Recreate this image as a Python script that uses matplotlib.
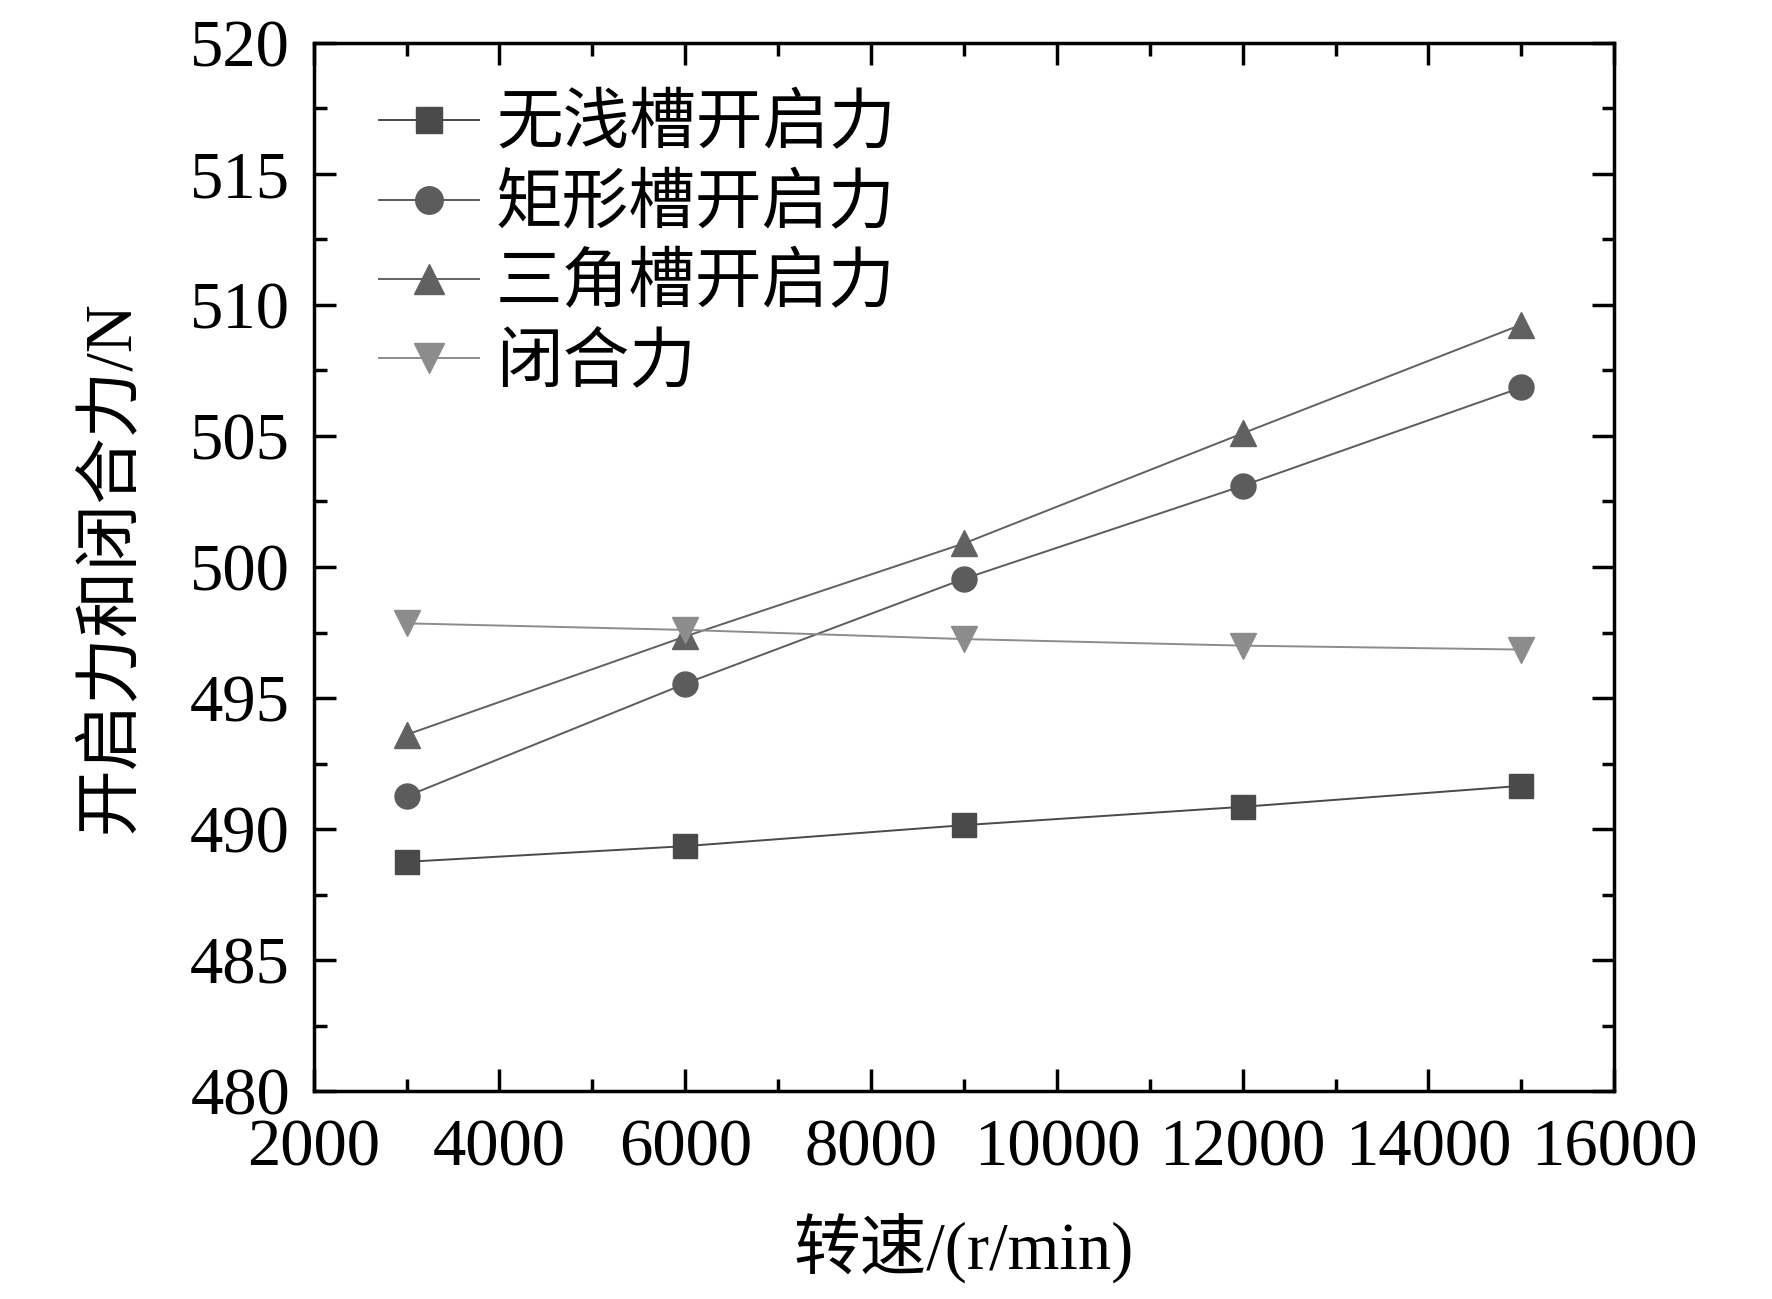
import numpy as np
import matplotlib
matplotlib.use("Agg")
import matplotlib.pyplot as plt
from matplotlib.ticker import MultipleLocator

plt.rcParams['font.family'] = ['Liberation Serif', 'Noto Sans CJK SC']

# speeds (r/min)
speed = [3000, 6000, 9000, 12000, 15000]

# forces (N)
noGroove = [488.75, 489.35, 490.15, 490.85, 491.65]
rectGroove = [491.25, 495.55, 499.55, 503.1, 506.85]
triGroove = [493.6, 497.35, 500.9, 505.1, 509.25]
closeForce = [497.85, 497.6, 497.25, 497.0, 496.85]

labels = ["无浅槽开启力", "矩形槽开启力", "三角槽开启力", "闭合力"]

FS = 48


def main():
    fig = plt.figure(figsize=(17.72, 12.99), dpi=100)
    ax = fig.add_axes([0.177, 0.16, 0.734, 0.807])

    ax.plot(speed, noGroove, '-s', color='#4a4a4a', lw=1.4, ms=17, label=labels[0])
    ax.plot(speed, rectGroove, '-o', color='#5c5c5c', lw=1.4, ms=18, label=labels[1])
    ax.plot(speed, triGroove, '-^', color='#616161', lw=1.4, ms=19, label=labels[2])
    ax.plot(speed, closeForce, '-v', color='#8c8c8c', lw=1.4, ms=19, label=labels[3])

    ax.set_xlim(2000, 16000)
    ax.set_ylim(480, 520)
    ax.xaxis.set_major_locator(MultipleLocator(2000))
    ax.xaxis.set_minor_locator(MultipleLocator(1000))
    ax.yaxis.set_major_locator(MultipleLocator(5))
    ax.yaxis.set_minor_locator(MultipleLocator(2.5))

    ax.tick_params(which='both', direction='in', top=True, right=True,
                   width=2.5, labelsize=FS)
    ax.tick_params(axis='x', pad=20)
    ax.tick_params(axis='y', pad=17)
    ax.tick_params(which='major', length=16)
    ax.tick_params(which='minor', length=9)
    for sp in ax.spines.values():
        sp.set_linewidth(2.5)

    ax.set_xlabel("转速/(r/min)", fontsize=FS, labelpad=24)
    ax.set_ylabel("开启力和闭合力/N", fontsize=FS, labelpad=34)

    ax.legend(loc='upper left', bbox_to_anchor=(0.03, 0.975), frameon=False,
              fontsize=FS, handlelength=1.5, handletextpad=0.25,
              labelspacing=0.26, borderaxespad=0, markerscale=1.1)

    fig.savefig("out.png", dpi=100)


if __name__ == "__main__":
    main()
